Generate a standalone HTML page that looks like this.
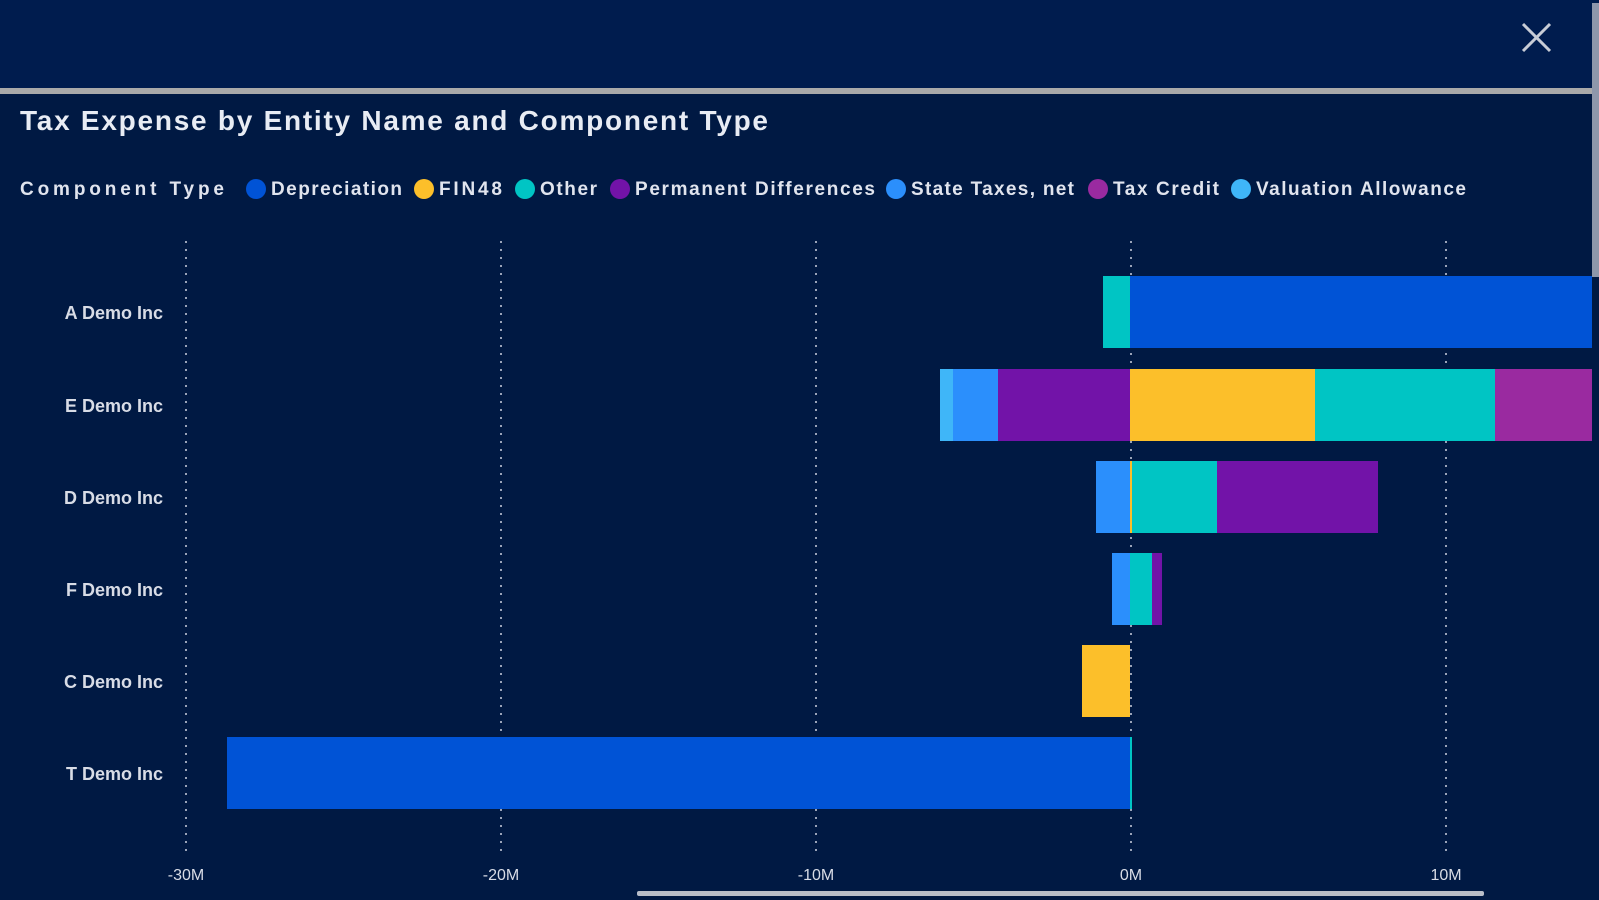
<!DOCTYPE html>
<html><head><style>
html,body{margin:0;padding:0;width:1599px;height:900px;overflow:hidden;background:#001943;font-family:"Liberation Sans",sans-serif;}
</style></head><body>
<svg width="1599" height="900" xmlns="http://www.w3.org/2000/svg" style="position:absolute;left:0;top:0">
<rect width="1599" height="900" fill="#001943"/>
<rect width="1599" height="88" fill="#001c4e"/>
<rect y="88" width="1599" height="6" fill="#a9a9a9"/>
<g stroke="#c8ccd6" stroke-width="3"><line x1="1523" y1="24" x2="1550" y2="51"/><line x1="1550" y1="24" x2="1523" y2="51"/></g>
<text x="20" y="130" fill="#e8ecf4" font-size="28" font-weight="bold" textLength="748">Tax Expense by Entity Name and Component Type</text>
<g font-size="19" font-weight="bold" fill="#e0e4ee">
<text x="20" y="195" textLength="204">Component Type</text>
<circle cx="256" cy="189" r="10" fill="#0053d6"/><text x="271" y="195" textLength="131">Depreciation</text>
<circle cx="424" cy="189" r="10" fill="#fcbf2a"/><text x="439" y="195" textLength="63">FIN48</text>
<circle cx="525" cy="189" r="10" fill="#00c5c4"/><text x="540" y="195" textLength="57">Other</text>
<circle cx="620" cy="189" r="10" fill="#7213a8"/><text x="635" y="195" textLength="240">Permanent Differences</text>
<circle cx="896" cy="189" r="10" fill="#2b8ffc"/><text x="911" y="195" textLength="163">State Taxes, net</text>
<circle cx="1098" cy="189" r="10" fill="#9a2aa0"/><text x="1113" y="195" textLength="106">Tax Credit</text>
<circle cx="1241" cy="189" r="10" fill="#3fb6f8"/><text x="1256" y="195" textLength="210">Valuation Allowance</text>
</g>
<g stroke="#9aa3b8" stroke-width="2" stroke-dasharray="2,6">
<line x1="186" y1="241" x2="186" y2="852"/><line x1="501" y1="241" x2="501" y2="852"/><line x1="816" y1="241" x2="816" y2="852"/><line x1="1131" y1="241" x2="1131" y2="852"/><line x1="1446" y1="241" x2="1446" y2="852"/>
</g>
<g font-size="18" fill="#d8dce6" font-weight="bold" text-anchor="end">
<text x="163" y="319">A Demo Inc</text><text x="163" y="412">E Demo Inc</text><text x="163" y="504">D Demo Inc</text><text x="163" y="596">F Demo Inc</text><text x="163" y="688">C Demo Inc</text><text x="163" y="780">T Demo Inc</text>
</g>
<g font-size="16" fill="#d8dce6" text-anchor="middle">
<text x="186" y="880">-30M</text><text x="501" y="880">-20M</text><text x="816" y="880">-10M</text><text x="1131" y="880">0M</text><text x="1446" y="880">10M</text>
</g>
<!-- A -->
<rect x="1103" y="276" width="27" height="72" fill="#00c5c4"/>
<rect x="1130" y="276" width="462" height="72" fill="#0053d6"/>
<!-- E -->
<rect x="940" y="369" width="13" height="72" fill="#3fb6f8"/>
<rect x="953" y="369" width="45" height="72" fill="#2b8ffc"/>
<rect x="998" y="369" width="132" height="72" fill="#7213a8"/>
<rect x="1130" y="369" width="185" height="72" fill="#fcbf2a"/>
<rect x="1315" y="369" width="180" height="72" fill="#00c5c4"/>
<rect x="1495" y="369" width="97" height="72" fill="#9a2aa0"/>
<!-- D -->
<rect x="1096" y="461" width="34" height="72" fill="#2b8ffc"/>
<rect x="1130" y="461" width="2" height="72" fill="#fcbf2a"/>
<rect x="1132" y="461" width="85" height="72" fill="#00c5c4"/>
<rect x="1217" y="461" width="161" height="72" fill="#7213a8"/>
<!-- F -->
<rect x="1112" y="553" width="18" height="72" fill="#2b8ffc"/>
<rect x="1130" y="553" width="22" height="72" fill="#00c5c4"/>
<rect x="1152" y="553" width="10" height="72" fill="#7213a8"/>
<!-- C -->
<rect x="1082" y="645" width="48" height="72" fill="#fcbf2a"/>
<!-- T -->
<rect x="227" y="737" width="905" height="72" fill="#0053d6"/>
<rect x="1130" y="737" width="2" height="72" fill="#00c5c4"/>
<!-- scrollbars -->
<rect x="1592" y="3" width="7" height="274" fill="#8e97ab"/>
<rect x="637" y="891" width="847" height="5" rx="2" fill="#b9bec9"/>
</svg>
</body></html>
